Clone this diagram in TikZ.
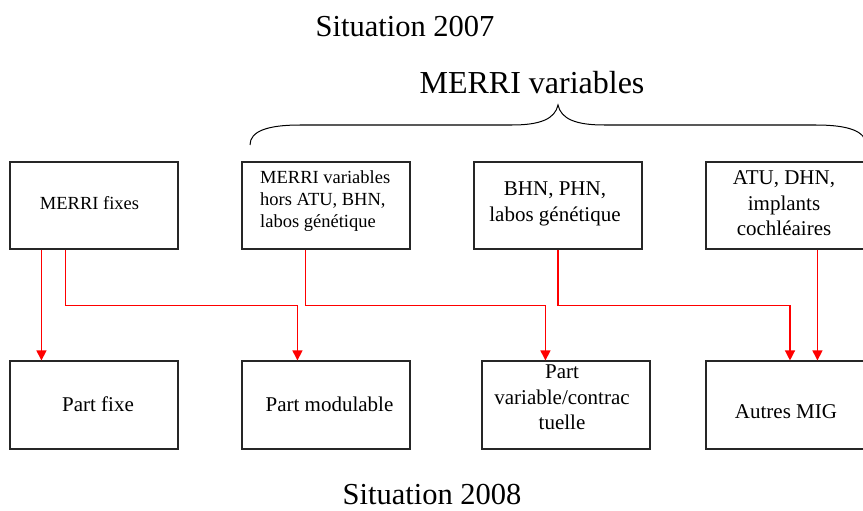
\documentclass[tikz,border=0pt]{standalone}
\usepackage{fontspec}
\setmainfont{Liberation Serif}
\usetikzlibrary{arrows.meta}

\tikzset{
  box/.style={draw=black!85, line width=1.1pt, rectangle, minimum width=168pt, inner sep=0pt},
  txt/.style={inner sep=0pt, align=center},
  arr/.style={draw=red, line width=1.3pt, -{Triangle[width=10pt,length=10pt]}},
  mid/.style={font=\fontsize{21}{25.5}\selectfont},
  small/.style={font=\fontsize{18.5}{22}\selectfont},
}

\begin{document}
\begin{tikzpicture}[x=1pt, y=-1pt]
  \useasboundingbox (0,0) rectangle (863,511);

  % titles
  \node[txt, font=\fontsize{30.5}{34}\selectfont] (t2007) at (405,27) {Situation 2007};
  \node[txt, font=\fontsize{32}{36}\selectfont] (tvar) at (532,83) {MERRI variables};
  \node[txt, font=\fontsize{30.5}{35}\selectfont] (t2008) at (432,495) {Situation 2008};

  % brace over the variable boxes
  \draw[line width=1pt] (250,145) .. controls (250,131) and (268,125) .. (300,125)
    -- (512,125) .. controls (540,125) and (555,119) .. (558,105)
    .. controls (561,119) and (576,125) .. (604,125)
    -- (816,125) .. controls (848,125) and (866,131) .. (866,145);

  % 2007 boxes
  \node[box, minimum height=87pt] (b1) at (94,205.5) {};
  \node[box, minimum height=87pt] (b2) at (326,205.5) {};
  \node[box, minimum height=87pt] (b3) at (558,205.5) {};
  \node[box, minimum height=87pt] (b4) at (790,205.5) {};

  % 2008 boxes
  \node[box, minimum height=88pt] (b5) at (94,405) {};
  \node[box, minimum height=88pt] (b6) at (326,405) {};
  \node[box, minimum height=88pt] (b7) at (566,405) {};
  \node[box, minimum height=88pt] (b8) at (790,405) {};

  % box texts
  \node[txt, small] (l1) at (89.5,203) {MERRI fixes};
  \node[txt, small, align=left, anchor=west] (l2) at (260,201) {MERRI variables\\hors ATU, BHN,\\labos génétique};
  \node[txt, mid] (l3) at (555,204) {BHN, PHN,\\labos génétique};
  \node[txt, mid] (l4) at (784,203.5) {ATU, DHN,\\implants\\cochléaires};
  \node[txt, mid] (l5) at (98,404) {Part fixe};
  \node[txt, mid] (l6) at (329.5,404) {Part modulable};
  \node[txt, mid] (l7) at (562,397.5) {Part\\variable/contrac\\tuelle};
  \node[txt, mid] (l8) at (786,412) {Autres MIG};

  % connectors
  \draw[arr] ([xshift=32pt]b1.south west) -- ([xshift=32pt]b5.north west);
  \draw[arr] ([xshift=56pt]b1.south west) -- ++(0,56) -| ([xshift=56pt]b6.north west);
  \draw[arr] ([xshift=64pt]b2.south west) -- ++(0,56) -| ([xshift=64pt]b7.north west);
  \draw[arr] (b3.south) -- ++(0,56) -| (b8.north);
  \draw[arr] ([xshift=112pt]b4.south west) -- ([xshift=112pt]b8.north west);
\end{tikzpicture}
\end{document}
